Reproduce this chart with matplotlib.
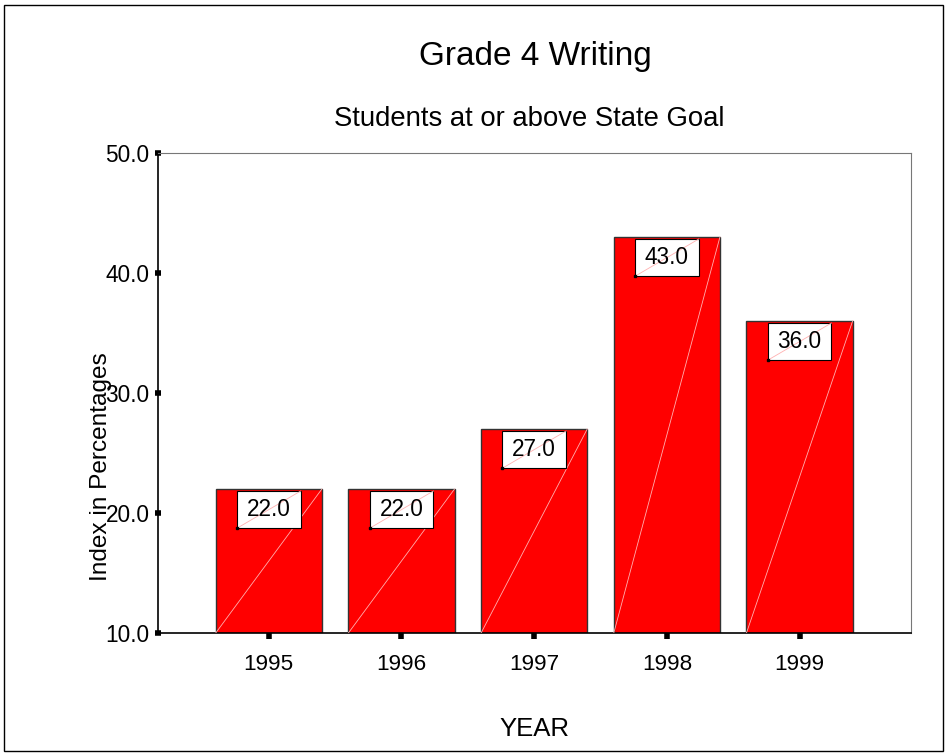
import matplotlib.pyplot as plt
from matplotlib.patches import Rectangle

# data
years = ['1995', '1996', '1997', '1998', '1999']
pct = [22.0, 22.0, 27.0, 43.0, 36.0]
yticks = [10.0, 20.0, 30.0, 40.0, 50.0]

plt.rcParams['font.family'] = ['Liberation Sans', 'DejaVu Sans']

fig = plt.figure(figsize=(9.48, 7.56), dpi=100)
ax = fig.add_axes([158 / 948, 1 - 633 / 756, (911 - 158) / 948, (633 - 153) / 756])

# outer frame round the whole picture
fig.patches.append(Rectangle((4 / 948, 5 / 756), 939 / 948, 746 / 756, transform=fig.transFigure,
                             fill=False, edgecolor='black', linewidth=1))

x = range(len(years))
bw = 0.8
ax.bar(x, [p - 10 for p in pct], bottom=10, width=bw, color='#ff0000',
       edgecolor='#333333', linewidth=1, zorder=2)

# value boxes (white, with faint diagonal)
box_w, box_h = 0.48, 3.1
for i, p in enumerate(pct):
    ax.plot([i - bw / 2, i + bw / 2], [10, p], color='#ffb0b0', linewidth=0.6, zorder=3)
    top = p - 0.17
    ax.add_patch(Rectangle((i - box_w / 2, top - box_h), box_w, box_h, facecolor='white',
                           edgecolor='black', linewidth=0.8, zorder=4))
    ax.plot([i - box_w / 2, i + box_w / 2], [top - box_h, top], color='#ffb0b0',
            linewidth=0.6, zorder=5)
    ax.plot(i - box_w / 2, top - box_h, marker='s', markersize=2, color='black', zorder=6)
    ax.text(i, top - box_h / 2, f'{p:.1f}', ha='center', va='center', fontsize=16.3, zorder=6)

ax.set_xlim(-0.835, 4.84)
ax.set_ylim(10, 50)
ax.set_xticks(list(x))
ax.set_xticklabels(years, fontsize=16.2)
ax.set_yticks(yticks)
ax.set_yticklabels([f'{t:.1f}' for t in yticks], fontsize=16.3)
ax.tick_params(axis='y', direction='inout', length=4, width=4, pad=4)
ax.tick_params(axis='x', direction='out', length=4, width=4, pad=11)

ax.spines['top'].set_color('#777777')
ax.spines['right'].set_color('#777777')
ax.spines['top'].set_linewidth(0.8)
ax.spines['right'].set_linewidth(0.8)
ax.spines['left'].set_linewidth(1.2)
ax.spines['bottom'].set_linewidth(1.2)

fig.text(535 / 948, 1 - 57 / 756, 'Grade 4 Writing', ha='center', va='center', fontsize=24)
fig.text(529 / 948, 1 - 119 / 756, 'Students at or above State Goal', ha='center', va='center', fontsize=19.8)
fig.text(534 / 948, 1 - 729 / 756, 'YEAR', ha='center', va='center', fontsize=18.5)
fig.text(101 / 948, 1 - 467 / 756, 'Index in Percentages', ha='center', va='center', fontsize=17.6,
         rotation=90)

fig.savefig('out.png', dpi=100)
